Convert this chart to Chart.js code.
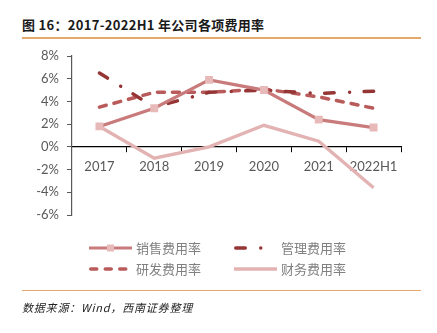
<!DOCTYPE html>
<html>
<head>
<meta charset="utf-8">
<script src="https://cdn.jsdelivr.net/npm/chart.js@4/dist/chart.umd.min.js"></script>
<style>
  html, body { margin: 0; padding: 0; background: #fff; }
  body { width: 437px; height: 333px; position: relative; overflow: hidden; }
  #title { position: absolute; left: 22px; top: 15px; font: bold 13px "Noto Sans CJK SC", "Liberation Sans", sans-serif; color: #1a1a1a; letter-spacing: 0.3px; white-space: nowrap; }
  .rule { position: absolute; left: 22px; width: 399px; height: 1.5px; background: #E4A86A; }
  #source { position: absolute; left: 22px; top: 299px; font: italic 11px "Noto Sans CJK SC", "Liberation Sans", sans-serif; color: #222; letter-spacing: 0.8px; white-space: nowrap; }
  #wrap { position: absolute; left: 0; top: 0; width: 437px; height: 333px; }
</style>
</head>
<body>
<div id="title">图 16：2017-2022H1 年公司各项费用率</div>
<div class="rule" style="top:37px"></div>
<div id="wrap"><canvas id="c" width="437" height="333"></canvas></div>
<div class="rule" style="top:289.5px"></div>
<div id="source">数据来源：Wind，西南证券整理</div>
<script>
// Categories and expense ratios (%)
const years = ['2017', '2018', '2019', '2020', '2021', '2022H1'];
const salesRate   = [1.8, 3.4, 5.9, 5.0, 2.4, 1.7];   // 销售费用率
const adminRate   = [6.5, 3.5, 4.8, 5.0, 4.7, 4.9];   // 管理费用率
const rdRate      = [3.5, 4.8, 4.8, 5.1, 4.4, 3.4];   // 研发费用率
const financeRate = [1.8, -1.0, 0.0, 1.9, 0.5, -3.6]; // 财务费用率
const yTicks = [8, 6, 4, 2, 0, -2, -4, -6];

const seriesNames = ['销售费用率', '管理费用率', '研发费用率', '财务费用率'];

const C_SALES = '#C97B7B', C_SALES_PT = '#E8B9B9';
const C_ADMIN = '#953535';
const C_RD = '#B95B5B';
const C_FIN = '#E3B3B3';

// Legend drawn below the plot in a 2 x 2 grid
const legendGrid = {
  id: 'legendGrid',
  afterDraw(chart) {
    const ctx = chart.ctx;
    const cols = [89, 234];
    const rows = [248, 269];
    const sampleW = 43;
    chart.data.datasets.forEach((ds, i) => {
      const x = cols[i % 2], y = rows[Math.floor(i / 2)];
      ctx.save();
      ctx.strokeStyle = ds.borderColor;
      ctx.lineWidth = ds.borderWidth;
      ctx.lineCap = ds.borderCapStyle || 'butt';
      ctx.setLineDash(ds.legendDash || ds.borderDash || []);
      const inset = ctx.lineCap === 'round' ? ds.borderWidth / 2 : 0;
      ctx.beginPath();
      ctx.moveTo(x + inset, y);
      ctx.lineTo(x + sampleW - inset, y);
      ctx.stroke();
      ctx.setLineDash([]);
      if (ds.pointRadius > 0) {
        ctx.fillStyle = ds.pointBackgroundColor;
        const s = 3.5;
        ctx.fillRect(x + sampleW / 2 - s, y - s, 2 * s, 2 * s);
      }
      ctx.fillStyle = '#808080';
      ctx.font = '13px "Noto Sans CJK SC", sans-serif';
      ctx.textBaseline = 'middle';
      ctx.textAlign = 'left';
      ctx.fillText(ds.label, x + sampleW + 4, y);
      ctx.restore();
    });
  }
};

new Chart(document.getElementById('c'), {
  type: 'line',
  data: {
    labels: years,
    datasets: [
      {
        label: seriesNames[0], data: salesRate,
        borderColor: C_SALES, borderWidth: 3.2,
        pointStyle: 'rect', pointRadius: 5.6, pointBorderWidth: 0,
        pointBackgroundColor: C_SALES_PT, pointBorderColor: C_SALES_PT,
        tension: 0, order: 1
      },
      {
        label: seriesNames[1], data: adminRate,
        borderColor: C_ADMIN, borderWidth: 3.5,
        borderDash: [9.5, 15.5, 0.01, 14.5], borderCapStyle: 'round',
        legendDash: [9.5, 15.5, 0.01, 14.5],
        pointRadius: 0, tension: 0, order: 2
      },
      {
        label: seriesNames[2], data: rdRate,
        borderColor: C_RD, borderWidth: 3.5,
        borderDash: [7, 8], borderCapStyle: 'round',
        legendDash: [6, 8.5],
        pointRadius: 0, tension: 0, order: 3
      },
      {
        label: seriesNames[3], data: financeRate,
        borderColor: C_FIN, borderWidth: 3.4,
        pointRadius: 0, tension: 0, order: 4
      }
    ]
  },
  options: {
    responsive: false,
    animation: false,
    layout: { padding: { left: 22, right: 36, top: 56, bottom: 118 } },
    plugins: { legend: { display: false }, tooltip: { enabled: false } },
    scales: {
      x: {
        type: 'category',
        position: { y: 0 },
        offset: true,
        grid: { display: true, drawOnChartArea: false, offset: true, tickLength: 5, color: '#000', tickColor: '#000', tickWidth: 1 },
        border: { display: true, color: '#000', width: 1.2 },
        ticks: { color: '#595959', font: { family: 'Lato, "Open Sans", sans-serif', size: 13 }, padding: 7, maxRotation: 0 }
      },
      y: {
        min: -6, max: 8,
        afterBuildTicks(scale) { scale.ticks = yTicks.map(v => ({ value: v })); },
        afterFit(scale) { scale.width = 50; },
        grid: { display: true, drawOnChartArea: false, tickLength: 5, tickColor: '#595959', tickWidth: 1 },
        border: { display: true, color: '#595959', width: 1.2 },
        ticks: {
          color: '#595959', padding: 8,
          font: { family: 'Lato, "Open Sans", sans-serif', size: 13 },
          callback: v => v + '%'
        }
      }
    }
  },
  plugins: [legendGrid]
});
</script>
</body>
</html>
